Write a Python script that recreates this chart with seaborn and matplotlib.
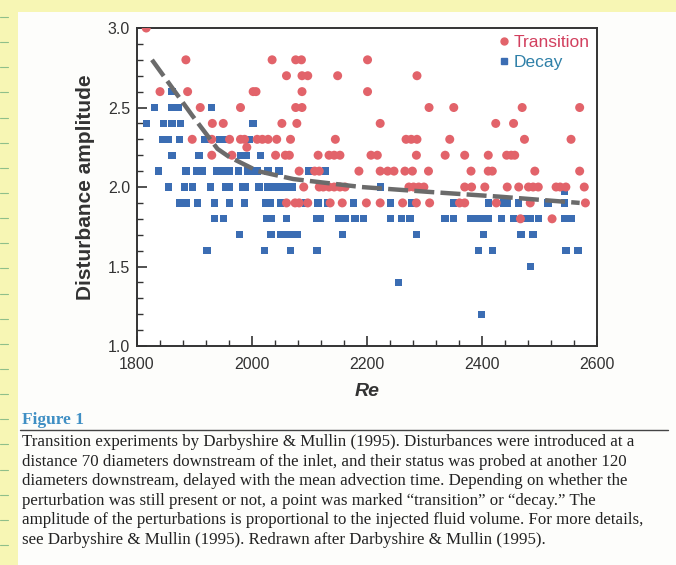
import matplotlib
matplotlib.use('Agg')
import matplotlib.pyplot as plt
import matplotlib.patches as mpatches
from matplotlib.lines import Line2D
from matplotlib.ticker import MultipleLocator
import pandas as pd
import seaborn as sns


# transition points, one line per amplitude level
TRANSITION_RE = [1816,
                 1885, 2035, 2076, 2086, 2201,
                 2060, 2087, 2097, 2149, 2287,
                 1840, 1888, 2002, 2007, 2087, 2201,
                 1910, 1980, 2076, 2087, 2308, 2351, 2470, 2570,
                 1931, 1950, 2052, 2078, 2223, 2424, 2455,
                 1896, 1930, 1961, 1980, 1987, 2009, 2018, 2028, 2043, 2067, 2145, 2268, 2277, 2287, 2344, 2474, 2555,
                 1991,
                 1930, 1965, 2041, 2058, 2065, 2115, 2134, 2143, 2153, 2207, 2218, 2286, 2336, 2370, 2411, 2443, 2451, 2457,
                 2082, 2109, 2117, 2186, 2223, 2236, 2247, 2266, 2279, 2307, 2381, 2411, 2418, 2492, 2570,
                 2090, 2117, 2124, 2134, 2143, 2153, 2162, 2273, 2281, 2290, 2299, 2370, 2382, 2405, 2444, 2464, 2481,
                 2489, 2498, 2529, 2536, 2546, 2578,
                 2060, 2075, 2082, 2097, 2136, 2157, 2199, 2223, 2262, 2286, 2309, 2361, 2370, 2425, 2484, 2580,
                 2467, 2522]
TRANSITION_AMP = ([3.0] + [2.8] * 5 + [2.7] * 5 + [2.6] * 6 + [2.5] * 8 + [2.4] * 7 + [2.3] * 17 + [2.25]
                  + [2.2] * 18 + [2.1] * 15 + [2.0] * 23 + [1.9] * 16 + [1.8] * 2)

# decay points, one line per amplitude level
DECAY_RE = [1861,
            1830, 1861, 1872, 1929,
            1816, 1846, 1861, 1876, 2002,
            1845, 1855, 1874, 1918, 1928, 1943, 1954, 1995,
            1861, 1908, 1980, 1991, 2015,
            1837, 1885, 1904, 1914, 1939, 1946, 1954, 1961, 1976, 1993, 2002, 2009, 2028, 2047, 2099, 2128,
            1855, 1883, 1896, 1928, 1954, 1961, 1983, 1989, 2012, 2028, 2039, 2047, 2054, 2061, 2071, 2223,
            2544,
            1874, 1885, 1905, 1935, 1961, 1987, 2023, 2032, 2050, 2093, 2115, 2132, 2177, 2241, 2277, 2350, 2411,
            2437, 2444, 2464, 2515, 2544,
            1935, 1950, 2026, 2033, 2060, 2113, 2119, 2151, 2162, 2179, 2194, 2241, 2260, 2275, 2336, 2350, 2381,
            2390, 2399, 2411, 2434, 2455, 2474, 2485, 2498, 2544, 2555,
            1978, 2033, 2050, 2060, 2069, 2079, 2158, 2286, 2403, 2468, 2489,
            1922, 2022, 2067, 2113, 2394, 2418, 2546, 2567,
            2485,
            2255,
            2399]
DECAY_AMP = ([2.6] + [2.5] * 4 + [2.4] * 5 + [2.3] * 8 + [2.2] * 5 + [2.1] * 16 + [2.0] * 16 + [1.97]
             + [1.9] * 22 + [1.8] * 27 + [1.7] * 11 + [1.6] * 8 + [1.5] + [1.4] + [1.2])

# dashed boundary curve
CURVE_RE = [1826, 1860, 1896, 1940, 1960, 2010, 2072, 2190, 2305, 2428, 2570]
CURVE_AMP = [2.80, 2.63, 2.45, 2.24, 2.19, 2.10, 2.05, 2.00, 1.97, 1.94, 1.90]

X_TICKS = [1800, 2000, 2200, 2400, 2600]
Y_TICKS = [1.0, 1.5, 2.0, 2.5, 3.0]

CAPTION = ('Transition experiments by Darbyshire & Mullin (1995). Disturbances were introduced at a\n'
           'distance 70 diameters downstream of the inlet, and their status was probed at another 120\n'
           'diameters downstream, delayed with the mean advection time. Depending on whether the\n'
           'perturbation was still present or not, a point was marked \u201ctransition\u201d or \u201cdecay.\u201d The\n'
           'amplitude of the perturbations is proportional to the injected fluid volume. For more details,\n'
           'see Darbyshire & Mullin (1995). Redrawn after Darbyshire & Mullin (1995).')

RED = '#e2636a'
BLUE = '#3b6db3'


def main():
    sns.set_style('white')
    plt.rcParams['font.family'] = ['Liberation Sans', 'DejaVu Sans']

    trans = pd.DataFrame({'Re': TRANSITION_RE, 'Amp': TRANSITION_AMP})
    decay = pd.DataFrame({'Re': DECAY_RE, 'Amp': DECAY_AMP})
    curve = pd.DataFrame({'Re': CURVE_RE, 'Amp': CURVE_AMP})

    fig = plt.figure(figsize=(6.76, 5.65), dpi=100)
    fig.patch.set_facecolor('#f7f6b4')
    # white page on the yellow scan background
    fig.patches.append(mpatches.Rectangle((0.027, 0.0), 0.973, 0.978, transform=fig.transFigure,
                                          facecolor='#fdfdfb', edgecolor='none', zorder=-10))
    for i in range(23):
        y = 0.97 - i * 0.0445
        fig.add_artist(Line2D([0.0, 0.012], [y, y], transform=fig.transFigure, color='#8fbf8a', lw=0.8))

    ax = fig.add_axes([0.2027, 0.3876, 0.6803, 0.5628])
    ax.set_facecolor('white')

    sns.scatterplot(data=decay, x='Re', y='Amp', marker='s', s=28, color=BLUE, edgecolor='none',
                    ax=ax, zorder=3)
    sns.scatterplot(data=trans, x='Re', y='Amp', marker='o', s=42, color=RED, edgecolor='none',
                    ax=ax, zorder=3)
    sns.lineplot(data=curve, x='Re', y='Amp', sort=False, color='#6b6b6b', linewidth=3.2,
                 dashes=False, ax=ax, zorder=4)
    ax.lines[-1].set_dashes((4.5, 1.4))

    ax.set_xlim(1800, 2600)
    ax.set_ylim(1.0, 3.0)
    ax.set_xticks(X_TICKS)
    ax.set_yticks(Y_TICKS)
    ax.set_yticklabels([f'{v:.1f}' for v in Y_TICKS])
    ax.xaxis.set_minor_locator(MultipleLocator(40))
    ax.yaxis.set_minor_locator(MultipleLocator(0.1))
    ax.tick_params(which='major', direction='in', length=7, width=1.2, labelsize=11.5,
                   labelcolor='#333333', color='#333333', bottom=True, left=True)
    ax.tick_params(axis='x', which='major', pad=8)
    ax.tick_params(axis='y', which='major', pad=5)
    ax.tick_params(which='minor', direction='in', length=4, width=1.0, color='#333333',
                   bottom=True, left=True)
    for side in ax.spines.values():
        side.set_color('#333333')
        side.set_linewidth(1.4)

    ax.set_xlabel('Re', fontsize=14, fontweight='bold', fontstyle='italic', color='#333333', labelpad=8)
    ax.set_ylabel('Disturbance amplitude', fontsize=15, fontweight='bold', color='#333333', labelpad=9)

    handles = [Line2D([], [], marker='o', ls='none', color=RED, markersize=5),
               Line2D([], [], marker='s', ls='none', color=BLUE, markersize=4)]
    leg = ax.legend(handles, ['Transition', 'Decay'], loc='upper right', frameon=False,
                    fontsize=12.5, handletextpad=0.1, handlelength=1.0, labelspacing=0.3,
                    borderaxespad=0.0)
    leg.get_texts()[0].set_color('#d2405f')
    leg.get_texts()[1].set_color('#2f80a8')

    # caption block
    fig.text(0.033, 0.25, 'Figure 1', fontsize=12.5, fontweight='bold', color='#3f8fc4',
             family=['Liberation Serif', 'DejaVu Serif'])
    fig.add_artist(Line2D([0.03, 0.988], [0.239, 0.239], transform=fig.transFigure,
                          color='#444444', lw=1.0))
    fig.text(0.033, 0.232, CAPTION, fontsize=12.2, color='#222222', va='top', linespacing=1.3,
             family=['Liberation Serif', 'DejaVu Serif'])

    fig.savefig('out.png', dpi=100, facecolor=fig.get_facecolor())
    plt.close(fig)


if __name__ == '__main__':
    main()
